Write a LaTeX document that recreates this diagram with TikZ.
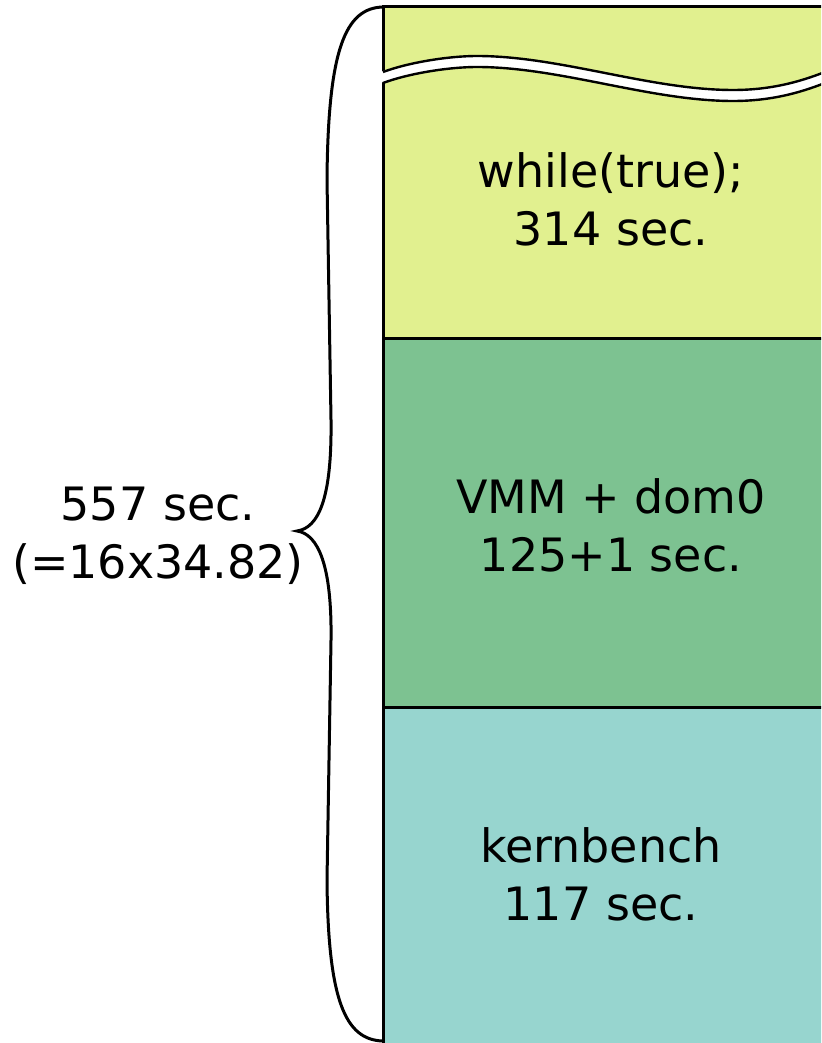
\documentclass[tikz,border=0pt]{standalone}
\usepackage{fontspec}
\setmainfont{DejaVu Sans}

\begin{document}
\begin{tikzpicture}[x=0.025cm,y=-0.025cm,
    secbox/.style={line width=0.075cm},
    seclabel/.style={align=center,font=\fontsize{32.7}{41.2}\selectfont}]
    \definecolor{bench_idle}{RGB}{225,240,143}
    \definecolor{bench_vmm}{RGB}{125,194,145}
    \definecolor{bench_kern}{RGB}{151,213,207}
    \useasboundingbox (0,0) rectangle (821,1043);
    \clip (0,0) rectangle (821,1043);
    % stacked bars
    \fill[bench_idle] (383,7) rectangle (860,338);
    \fill[bench_vmm] (383,338) rectangle (860,707);
    \fill[bench_kern] (383,707) rectangle (860,1060);
    \draw[secbox] (383,1060) -- (383,7) -- (860,7);
    \draw[secbox] (383,338) -- (860,338);
    \draw[secbox] (383,707) -- (860,707);
    % cut in the top bar
    \fill[white] (380,72) .. controls (410,62) and (450,56) .. (477,56)
        .. controls (560,56) and (650,90) .. (733,90)
        .. controls (775,90) and (805,80) .. (830,70)
        -- (830,81) .. controls (805,91) and (775,101) .. (733,101)
        .. controls (650,101) and (560,67) .. (477,67)
        .. controls (450,67) and (410,73) .. (380,83) -- cycle;
    \draw[line width=0.06cm] (383,72) .. controls (410,62) and (450,56) .. (477,56)
        .. controls (560,56) and (650,90) .. (733,90)
        .. controls (775,90) and (805,80) .. (830,70);
    \draw[line width=0.06cm] (383,83) .. controls (410,73) and (450,67) .. (477,67)
        .. controls (560,67) and (650,101) .. (733,101)
        .. controls (775,101) and (805,91) .. (830,81);
    % labels
    \node[seclabel] (idle) at (611,199) {while(true);\\314 sec.};
    \node[seclabel] (vmm) at (611,525) {VMM + dom0\\125+1 sec.};
    \node[seclabel] (kern) at (601,874) {kernbench\\117 sec.};
    % brace over the whole run
    \draw[line width=0.075cm] (383,7) .. controls (345,8) and (328,50) .. (327,180)
        -- (331,420) .. controls (332,500) and (318,528) .. (297,531)
        .. controls (318,534) and (332,565) .. (331,640)
        -- (327,880) .. controls (328,1000) and (345,1040) .. (383,1041);
    \node[seclabel] (total) at (158,536) {557 sec.\\(=16x34.82)};
\end{tikzpicture}
\end{document}
